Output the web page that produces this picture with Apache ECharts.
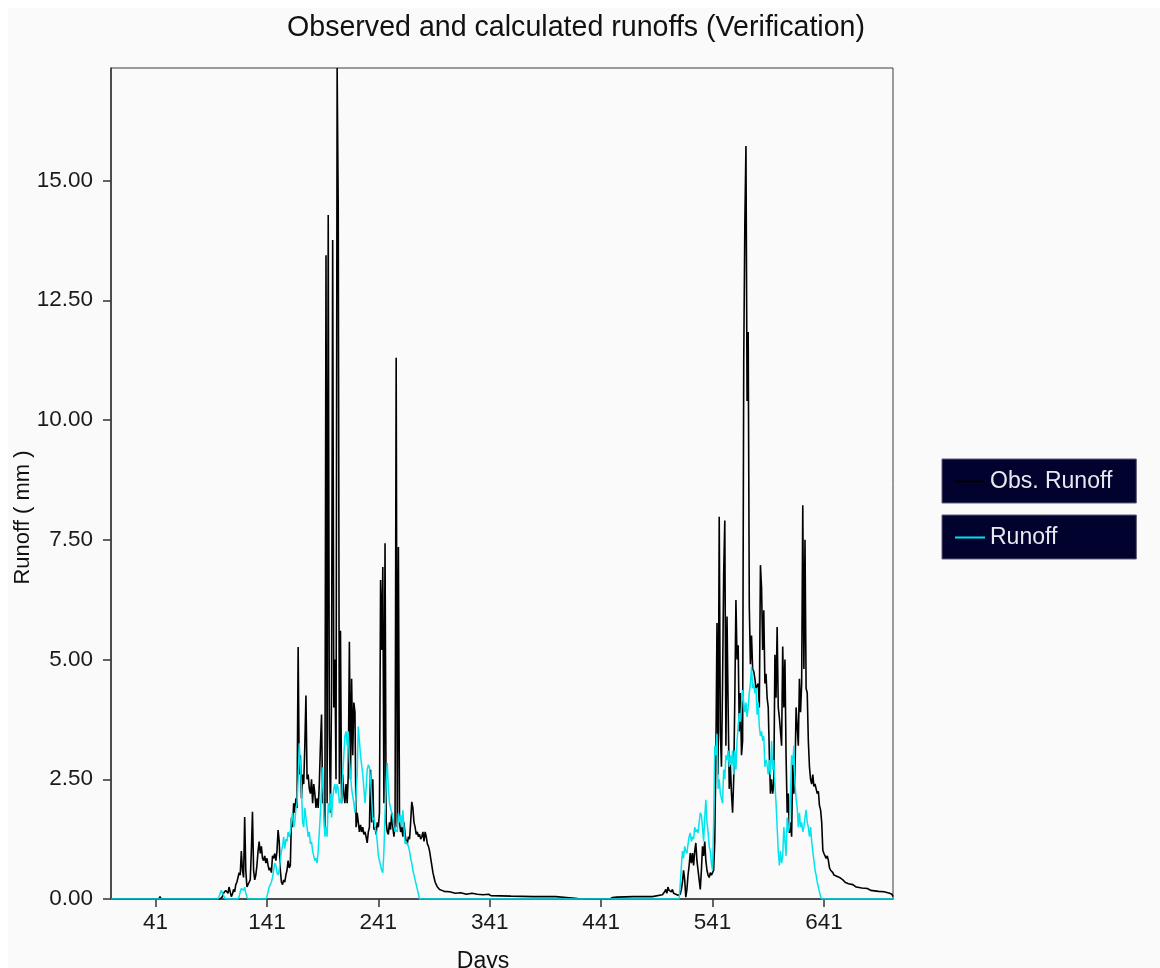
<!DOCTYPE html>
<html><head><meta charset="utf-8">
<script src="https://cdn.jsdelivr.net/npm/echarts@6/dist/echarts.min.js"></script>
<style>html,body{margin:0;padding:0;background:#fff;}#c{position:absolute;left:8px;top:8px;width:1152px;height:960px;}</style>
</head><body><div id="c"></div>
<script>
// ---- data (days, runoff in mm) ----
const xTickDays = [41, 141, 241, 341, 441, 541, 641];
const yTickValues = [0, 2.5, 5, 7.5, 10, 12.5, 15];

// Observed runoff
const obsFlat = [[1,0],[44,0],[45,0.05],[46,0],[99,0]];
const obsSeason1Start = 100;
const obsSeason1 = [
0.02,0.05,0.12,0.08,0.18,0.2,0.12,0.25,0.15,0.05,
0.1,0.2,0.15,0.3,0.35,0.45,0.55,0.5,1.0,0.6,
0.45,1.71,0.6,0.25,0.3,0.35,0.4,1.0,1.82,0.6,
0.4,0.5,0.7,1.0,1.2,0.95,1.1,0.85,0.8,0.9,
0.75,0.85,0.7,0.6,0.65,0.55,0.9,0.85,0.95,0.8,
1.0,1.44,1.2,0.6,0.35,0.3,0.4,0.35,0.5,0.6,
0.8,0.65,0.7,1.7,1.5,2.0,1.8,2.1,1.9,5.26,
2.6,3.0,2.1,2.6,2.4,3.2,4.25,2.5,2.6,2.3,
2.2,2.5,2.0,2.4,2.2,1.9,2.1,1.9,2.4,3.2,
3.85,2.0,2.1,1.4,13.44,2.0,14.28,3.5,1.8,4.4,
13.76,4.0,5.0,2.5,17.35,14.38,2.4,5.6,2.0,2.6,
2.2,2.0,2.4,2.0,2.6,5.37,2.5,4.6,3.0,4.1,
3.9,1.5,1.8,1.6,1.4,1.55,1.4,1.5,1.35,1.4,
1.3,1.17,1.4,1.5,2.7,1.6,2.5,1.45,1.5,1.35,
1.6,1.5,1.8,6.66,5.2,6.93,2.0,7.43,1.6,1.4,
1.35,1.6,1.45,1.8,1.5,1.3,1.6,11.3,1.5,7.35,
1.6,1.4,1.5,1.3,1.6,1.35,1.2,1.15,1.3,1.25,
1.6,2.03,1.9,1.6,1.5,1.35,1.4,1.3,1.35,1.25,
1.3,1.4,1.2,1.4,1.3,1.15,1.1,1.0,0.85,0.7,
0.55,0.45,0.35,0.3,0.25,0.22,0.2
];
const obsTail1 = [[298,0.18],[300,0.16],[305,0.15],[310,0.12],[315,0.13],[320,0.1],[325,0.12],[330,0.1],[335,0.09],[340,0.1],[342,0.07],[360,0.06],[380,0.05],[400,0.05],[410,0.03],[420,0.01],[430,0],[447,0],[448,0.03],[449,0],[451,0.03],[452,0.02],[455,0.04],[470,0.05],[487,0.05],[488,0.08],[496,0.09]];
const obsSeason2Start = 497;
const obsSeason2 = [
0.1,0.15,0.2,0.12,0.25,0.18,0.22,0.15,0.2,0.12,
0.14,0.1,0.12,0.08,0.1,0.1,0.2,0.35,0.6,0.4,
0.04,0.2,0.5,0.7,0.96,0.75,0.96,0.7,1.0,1.17,
0.8,0.6,0.4,0.2,0.6,1.1,0.9,1.2,0.8,0.6,
0.5,0.45,0.55,0.5,0.48,0.6,1.2,3.0,5.76,2.6,
7.98,3.5,2.76,4.5,6.8,7.9,3.2,5.9,4.0,2.3,
2.8,2.2,1.8,2.5,4.2,6.24,5.0,5.3,3.5,4.3,
3.0,3.3,11.2,14.13,15.72,10.4,11.84,6.1,4.9,5.5,
4.8,4.75,4.6,4.4,4.36,4.5,4.0,6.97,6.5,5.2,
6.03,4.5,4.7,4.2,4.0,3.0,2.2,2.5,2.2,2.4,
5.1,4.2,5.68,4.0,3.78,3.5,3.2,5.27,4.0,5.0,
3.0,1.8,2.2,1.38,1.6,1.3,2.84,2.2,2.6,4.0,
3.6,3.2,4.6,3.9,4.5,8.22,4.8,7.5,4.4,4.3,
3.3,2.76,2.5,2.4,2.6,2.35,2.4,2.3,2.2,2.25,
1.95,1.86,1.6,1.02,0.95,0.9,0.85,0.9,0.8,0.65,
0.6,0.62,0.55,0.5
];
const obsTail2 = [[652,0.48],[655,0.45],[658,0.4],[660,0.35],[663,0.32],[667,0.3],[670,0.25],[675,0.23],[680,0.22],[683,0.18],[690,0.16],[695,0.15],[700,0.12],[702,0.1],[703,0.05]];

// Calculated runoff
const calcFlat = [[1,0],[97,0]];
const calcSeason1Start = 98;
const calcSeason1 = [
0.05,0.12,0.18,0.15,0.08,0.02,0,0,0,0,
0,0,0,0,0,0,0,0,0.05,0.15,
0.22,0.2,0.18,0.25,0.12,0.05,0,0,0,0,
0,0,0,0,0,0,0,0,0,0,
0,0,0,0.05,0.15,0.25,0.3,0.35,0.45,0.6,
0.75,0.7,0.55,0.5,0.6,0.8,1.0,1.1,1.3,1.05,
1.25,1.2,1.4,1.3,1.4,1.65,1.8,1.5,1.6,1.9,
2.0,2.5,3.25,2.8,2.3,1.6,1.5,1.9,1.7,1.5,
1.3,1.4,1.15,1.2,1.0,0.9,0.8,0.85,0.75,1.0,
1.4,1.8,2.3,2.75,1.8,1.3,1.5,1.3,2.0,1.8,
2.2,1.7,2.1,2.3,2.4,2.2,2.4,2.3,2.0,2.1,
2.0,2.6,3.0,3.4,3.5,3.2,3.5,2.9,2.6,2.3,
2.3,2.0,1.8,1.8,2.6,3.6,3.3,3.0,2.8,2.6,
2.3,2.0,2.3,2.7,2.8,2.75,2.5,2.1,1.65,1.7,
1.5,1.4,1.2,0.9,0.8,0.7,0.6,0.55,1.0,1.8,
2.4,2.84,2.3,2.0,1.9,1.8,1.7,1.5,1.4,1.45,
1.4,1.8,1.6,1.75,1.5,1.85,1.5,1.15,1.2,1.15,
1.1,1.0,0.85,0.75,0.6,0.5,0.4,0.3,0.2,0.1,0
];
const calcGap = [[511,0]];
const calcSeason2Start = 512;
const calcSeason2 = [
0.3,0.67,1.0,0.85,1.1,1.0,0.95,1.15,1.3,1.38,
1.2,1.3,1.25,1.5,1.4,1.45,1.38,1.6,1.8,1.75,
1.5,1.2,1.7,2.07,1.6,1.4,1.1,1.0,0.75,0.6,
1.6,3.2,3.0,3.45,2.3,2.5,2.2,2.1,2.0,2.7,
2.5,3.0,2.9,3.1,2.76,3.0,2.8,3.1,2.6,3.1,
2.7,3.3,3.6,3.88,3.7,4.0,4.36,4.1,3.9,4.1,
3.8,4.0,4.3,4.5,4.85,4.4,4.5,4.3,4.4,3.85,
4.1,3.6,3.4,3.5,3.3,3.4,2.76,2.9,2.8,2.6,
2.9,2.6,3.3,2.7,2.9,2.4,2.0,1.5,1.0,0.7,
1.0,0.75,0.9,1.5,1.2,0.9,1.7,1.4,1.5,2.2,
3.0,2.8,3.2,2.4,2.1,1.9,1.5,1.8,1.5,1.6,
1.4,1.5,1.7,1.86,1.6,1.5,1.3,1.5,1.2,1.0,
0.8,0.6,0.5,0.35,0.25,0.15,0.05,0
];
const calcTail = [[703,0]];

// ---- build ----
function daily(start, vals) { return vals.map(function (v, i) { return [start + i, v]; }); }
const obsData = [].concat(obsFlat, daily(obsSeason1Start, obsSeason1), obsTail1, daily(obsSeason2Start, obsSeason2), obsTail2);
const calcData = [].concat(calcFlat, daily(calcSeason1Start, calcSeason1), calcGap, daily(calcSeason2Start, calcSeason2), calcTail);

const FONT = '"Liberation Sans", Arial, sans-serif';
const chart = echarts.init(document.getElementById('c'), null, { renderer: 'canvas' });
const legendBase = {
  orient: 'horizontal', left: 934, icon: 'rect', itemWidth: 30, itemHeight: 2, selectedMode: false,
  backgroundColor: '#02022e', borderColor: '#5a5a78', borderWidth: 1, borderRadius: 0,
  textStyle: { color: '#e6eaf0', fontSize: 23, fontFamily: FONT }
};
chart.setOption({
  animation: false,
  backgroundColor: '#fafafa',
  title: {
    text: 'Observed and calculated runoffs (Verification)',
    left: 568, top: 6, textAlign: 'center', padding: 0,
    textStyle: { fontFamily: FONT, fontSize: 28.6, fontWeight: 'normal', color: '#111' }
  },
  legend: [
    Object.assign({}, legendBase, { data: ['Obs. Runoff'], top: 451, padding: [11, 24, 10, 13] }),
    Object.assign({}, legendBase, { data: ['Runoff'], top: 507, padding: [11, 79, 10, 13] })
  ],
  grid: { left: 103, top: 60, right: 267, bottom: 69, outerBoundsMode: 'none', containLabel: false,
    show: true, borderColor: '#3a3a3a', borderWidth: 1, backgroundColor: 'transparent' },
  xAxis: {
    type: 'value', min: 1, max: 703,
    name: 'Days', nameLocation: 'middle', nameGap: 51, nameMoveOverlap: false,
    nameTextStyle: { fontFamily: FONT, fontSize: 23, color: '#111', padding: [0, 38, 0, 0] },
    axisLine: { show: true, onZero: false, lineStyle: { color: '#333', width: 1.5 } },
    axisTick: { show: true, length: 8, customValues: xTickDays, lineStyle: { color: '#333', width: 1.5 } },
    axisLabel: { customValues: xTickDays, margin: 12, fontFamily: FONT, fontSize: 22.5, color: '#1a1a1a' },
    splitLine: { show: false }
  },
  yAxis: {
    type: 'value', min: 0, max: 17.35,
    name: 'Runoff ( mm )', nameLocation: 'middle', nameGap: 77, nameMoveOverlap: false,
    nameTextStyle: { fontFamily: FONT, fontSize: 22, color: '#111', padding: [0, 68, 0, 0] },
    axisLine: { show: true, lineStyle: { color: '#333', width: 1.5 } },
    axisTick: { show: true, length: 8, customValues: yTickValues, lineStyle: { color: '#333', width: 1.5 } },
    axisLabel: { customValues: yTickValues, margin: 18, fontFamily: FONT, fontSize: 22.5, color: '#1a1a1a',
      formatter: function (v) { return Number(v).toFixed(2); } },
    splitLine: { show: false }
  },
  series: [
    { name: 'Obs. Runoff', type: 'line', data: obsData, symbol: 'none', showSymbol: false,
      lineStyle: { color: '#000000', width: 1.6 }, itemStyle: { color: '#000000' }, z: 2 },
    { name: 'Runoff', type: 'line', data: calcData, symbol: 'none', showSymbol: false,
      lineStyle: { color: '#00e4ee', width: 1.5 }, itemStyle: { color: '#00e4ee' }, z: 3 }
  ]
});
</script></body></html>
